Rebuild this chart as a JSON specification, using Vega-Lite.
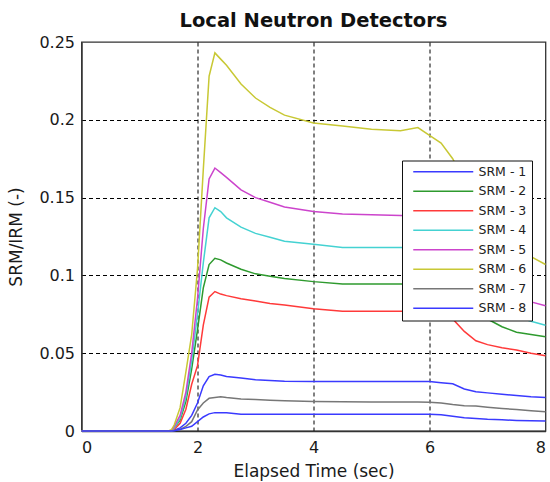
{
  "$schema": "https://vega.github.io/schema/vega-lite/v6.json",
  "width": 464,
  "height": 389,
  "autosize": {"type": "none"},
  "padding": {"left": 81.5, "top": 42, "right": 4.5, "bottom": 51},
  "background": "white",
  "title": {
    "text": "Local Neutron Detectors",
    "font": "DejaVu Sans",
    "fontSize": 19.5,
    "fontWeight": "bold",
    "color": "#111111",
    "anchor": "middle",
    "frame": "group",
    "baseline": "alphabetic",
    "offset": -12
  },
  "config": {
    "view": {"stroke": "#333333", "strokeWidth": 1.3}
  },
  "data": {
    "values": [
      {"t": 0, "SRM - 1": 0, "SRM - 2": 0, "SRM - 3": 0, "SRM - 4": 0, "SRM - 5": 0, "SRM - 6": 0, "SRM - 7": 0, "SRM - 8": 0},
      {"t": 1.5, "SRM - 1": 0, "SRM - 2": 0, "SRM - 3": 0, "SRM - 4": 0, "SRM - 5": 0, "SRM - 6": 0, "SRM - 7": 0, "SRM - 8": 0},
      {"t": 1.55, "SRM - 1": 0, "SRM - 2": 0, "SRM - 3": 0, "SRM - 4": 0, "SRM - 5": 0.0005, "SRM - 6": 0.0008, "SRM - 7": 0, "SRM - 8": 0},
      {"t": 1.6, "SRM - 1": 0.0005, "SRM - 2": 0.002, "SRM - 3": 0.001, "SRM - 4": 0.002, "SRM - 5": 0.003, "SRM - 6": 0.004, "SRM - 7": 0.0003, "SRM - 8": 0.0002},
      {"t": 1.7, "SRM - 1": 0.002, "SRM - 2": 0.007, "SRM - 3": 0.005, "SRM - 4": 0.008, "SRM - 5": 0.01, "SRM - 6": 0.015, "SRM - 7": 0.001, "SRM - 8": 0.001},
      {"t": 1.8, "SRM - 1": 0.005, "SRM - 2": 0.019, "SRM - 3": 0.014, "SRM - 4": 0.022, "SRM - 5": 0.025, "SRM - 6": 0.038, "SRM - 7": 0.003, "SRM - 8": 0.002},
      {"t": 1.9, "SRM - 1": 0.01, "SRM - 2": 0.04, "SRM - 3": 0.03, "SRM - 4": 0.045, "SRM - 5": 0.05, "SRM - 6": 0.062, "SRM - 7": 0.006, "SRM - 8": 0.003},
      {"t": 2.0, "SRM - 1": 0.018, "SRM - 2": 0.065, "SRM - 3": 0.042, "SRM - 4": 0.075, "SRM - 5": 0.085, "SRM - 6": 0.104, "SRM - 7": 0.0135, "SRM - 8": 0.006},
      {"t": 2.1, "SRM - 1": 0.029, "SRM - 2": 0.092, "SRM - 3": 0.068, "SRM - 4": 0.108, "SRM - 5": 0.13, "SRM - 6": 0.168, "SRM - 7": 0.018, "SRM - 8": 0.009},
      {"t": 2.2, "SRM - 1": 0.035, "SRM - 2": 0.107, "SRM - 3": 0.086, "SRM - 4": 0.137, "SRM - 5": 0.162, "SRM - 6": 0.228, "SRM - 7": 0.021, "SRM - 8": 0.011},
      {"t": 2.3, "SRM - 1": 0.0365, "SRM - 2": 0.111, "SRM - 3": 0.0896, "SRM - 4": 0.1435, "SRM - 5": 0.169, "SRM - 6": 0.243, "SRM - 7": 0.0215, "SRM - 8": 0.0118},
      {"t": 2.4, "SRM - 1": 0.036, "SRM - 2": 0.11, "SRM - 3": 0.088, "SRM - 4": 0.141, "SRM - 5": 0.166, "SRM - 6": 0.239, "SRM - 7": 0.022, "SRM - 8": 0.0118},
      {"t": 2.5, "SRM - 1": 0.035, "SRM - 2": 0.108, "SRM - 3": 0.087, "SRM - 4": 0.137, "SRM - 5": 0.163, "SRM - 6": 0.235, "SRM - 7": 0.0215, "SRM - 8": 0.0117},
      {"t": 2.75, "SRM - 1": 0.034, "SRM - 2": 0.104, "SRM - 3": 0.085, "SRM - 4": 0.131, "SRM - 5": 0.155, "SRM - 6": 0.223, "SRM - 7": 0.0205, "SRM - 8": 0.0107},
      {"t": 3.0, "SRM - 1": 0.033, "SRM - 2": 0.101, "SRM - 3": 0.0835, "SRM - 4": 0.127, "SRM - 5": 0.15, "SRM - 6": 0.214, "SRM - 7": 0.0202, "SRM - 8": 0.0107},
      {"t": 3.25, "SRM - 1": 0.0325, "SRM - 2": 0.0995, "SRM - 3": 0.082, "SRM - 4": 0.1245, "SRM - 5": 0.147, "SRM - 6": 0.208, "SRM - 7": 0.0198, "SRM - 8": 0.0107},
      {"t": 3.5, "SRM - 1": 0.032, "SRM - 2": 0.098, "SRM - 3": 0.081, "SRM - 4": 0.122, "SRM - 5": 0.144, "SRM - 6": 0.203, "SRM - 7": 0.0195, "SRM - 8": 0.0107},
      {"t": 4.0, "SRM - 1": 0.0318, "SRM - 2": 0.096, "SRM - 3": 0.0786, "SRM - 4": 0.12, "SRM - 5": 0.141, "SRM - 6": 0.198, "SRM - 7": 0.019, "SRM - 8": 0.0107},
      {"t": 4.5, "SRM - 1": 0.0318, "SRM - 2": 0.0945, "SRM - 3": 0.077, "SRM - 4": 0.118, "SRM - 5": 0.1395, "SRM - 6": 0.196, "SRM - 7": 0.0188, "SRM - 8": 0.0107},
      {"t": 5.0, "SRM - 1": 0.0318, "SRM - 2": 0.0945, "SRM - 3": 0.077, "SRM - 4": 0.118, "SRM - 5": 0.139, "SRM - 6": 0.194, "SRM - 7": 0.0187, "SRM - 8": 0.0107},
      {"t": 5.5, "SRM - 1": 0.0318, "SRM - 2": 0.0945, "SRM - 3": 0.077, "SRM - 4": 0.118, "SRM - 5": 0.1385, "SRM - 6": 0.193, "SRM - 7": 0.0186, "SRM - 8": 0.0107},
      {"t": 5.8, "SRM - 1": 0.0318, "SRM - 2": 0.0943, "SRM - 3": 0.0768, "SRM - 4": 0.1178, "SRM - 5": 0.1382, "SRM - 6": 0.195, "SRM - 7": 0.0186, "SRM - 8": 0.0107},
      {"t": 6.0, "SRM - 1": 0.0318, "SRM - 2": 0.094, "SRM - 3": 0.0765, "SRM - 4": 0.1175, "SRM - 5": 0.138, "SRM - 6": 0.19, "SRM - 7": 0.0185, "SRM - 8": 0.0107},
      {"t": 6.2, "SRM - 1": 0.031, "SRM - 2": 0.091, "SRM - 3": 0.076, "SRM - 4": 0.115, "SRM - 5": 0.135, "SRM - 6": 0.185, "SRM - 7": 0.018, "SRM - 8": 0.0105},
      {"t": 6.4, "SRM - 1": 0.0303, "SRM - 2": 0.084, "SRM - 3": 0.072, "SRM - 4": 0.106, "SRM - 5": 0.125, "SRM - 6": 0.175, "SRM - 7": 0.017, "SRM - 8": 0.0095},
      {"t": 6.6, "SRM - 1": 0.027, "SRM - 2": 0.077, "SRM - 3": 0.064, "SRM - 4": 0.096, "SRM - 5": 0.112, "SRM - 6": 0.16, "SRM - 7": 0.0163, "SRM - 8": 0.0085},
      {"t": 6.8, "SRM - 1": 0.0252, "SRM - 2": 0.0745, "SRM - 3": 0.058, "SRM - 4": 0.088, "SRM - 5": 0.103, "SRM - 6": 0.147, "SRM - 7": 0.016, "SRM - 8": 0.008},
      {"t": 7.0, "SRM - 1": 0.0245, "SRM - 2": 0.072, "SRM - 3": 0.0555, "SRM - 4": 0.082, "SRM - 5": 0.096, "SRM - 6": 0.136, "SRM - 7": 0.0153, "SRM - 8": 0.0075},
      {"t": 7.25, "SRM - 1": 0.0236, "SRM - 2": 0.067, "SRM - 3": 0.0535, "SRM - 4": 0.077, "SRM - 5": 0.09, "SRM - 6": 0.126, "SRM - 7": 0.0145, "SRM - 8": 0.0072},
      {"t": 7.5, "SRM - 1": 0.0228, "SRM - 2": 0.0635, "SRM - 3": 0.052, "SRM - 4": 0.0735, "SRM - 5": 0.086, "SRM - 6": 0.118, "SRM - 7": 0.0138, "SRM - 8": 0.0068},
      {"t": 7.75, "SRM - 1": 0.022, "SRM - 2": 0.062, "SRM - 3": 0.05, "SRM - 4": 0.0705, "SRM - 5": 0.083, "SRM - 6": 0.112, "SRM - 7": 0.013, "SRM - 8": 0.0066},
      {"t": 8.0, "SRM - 1": 0.0215, "SRM - 2": 0.0606, "SRM - 3": 0.0483, "SRM - 4": 0.068, "SRM - 5": 0.0805, "SRM - 6": 0.107, "SRM - 7": 0.0124, "SRM - 8": 0.0064}
    ]
  },
  "transform": [
    {"fold": ["SRM - 1", "SRM - 2", "SRM - 3", "SRM - 4", "SRM - 5", "SRM - 6", "SRM - 7", "SRM - 8"], "as": ["series", "value"]}
  ],
  "mark": {"type": "line", "strokeWidth": 1.5},
  "encoding": {
    "x": {
      "field": "t",
      "type": "quantitative",
      "scale": {"domain": [0, 8], "nice": false, "zero": false},
      "axis": {
        "values": [0, 2, 4, 6, 8],
        "title": "Elapsed Time (sec)",
        "grid": true,
        "gridColor": "#000000",
        "gridDash": [4, 3],
        "gridWidth": 1,
        "gridOpacity": {"condition": {"test": "datum.value == 0 || datum.value == 8", "value": 0}, "value": 1},
        "ticks": false,
        "domainColor": "#333333",
        "domainWidth": 1.3,
        "labelPadding": 8,
        "labelFont": "DejaVu Sans",
        "labelFontSize": 16,
        "labelColor": "#1a1a1a",
        "titleFont": "DejaVu Sans",
        "titleFontSize": 17,
        "titleFontWeight": "normal",
        "titleColor": "#1a1a1a",
        "titlePadding": 8
      }
    },
    "y": {
      "field": "value",
      "type": "quantitative",
      "scale": {"domain": [0, 0.25], "nice": false},
      "axis": {
        "values": [0, 0.05, 0.1, 0.15, 0.2, 0.25],
        "format": "~g",
        "title": "SRM/IRM (-)",
        "grid": true,
        "gridColor": "#000000",
        "gridDash": [4, 3],
        "gridWidth": 1,
        "gridOpacity": {"condition": {"test": "datum.value == 0 || datum.value == 0.25", "value": 0}, "value": 1},
        "ticks": false,
        "domainColor": "#333333",
        "domainWidth": 1.3,
        "labelPadding": 7,
        "labelFont": "DejaVu Sans",
        "labelFontSize": 16,
        "labelColor": "#1a1a1a",
        "titleFont": "DejaVu Sans",
        "titleFontSize": 17,
        "titleFontWeight": "normal",
        "titleColor": "#1a1a1a",
        "titlePadding": 13
      }
    },
    "color": {
      "field": "series",
      "type": "nominal",
      "scale": {
        "domain": ["SRM - 1", "SRM - 2", "SRM - 3", "SRM - 4", "SRM - 5", "SRM - 6", "SRM - 7", "SRM - 8"],
        "range": ["#3a3aff", "#2e9a2e", "#ff3a3a", "#44d2d2", "#cc44cc", "#c8c834", "#777777", "#3a3aff"]
      },
      "legend": {
        "orient": "none",
        "legendX": 320.5,
        "legendY": 118.5,
        "title": null,
        "symbolType": "M-6,0H6",
        "symbolSize": 100,
        "symbolStrokeWidth": 1.5,
        "symbolOffset": 30,
        "labelOffset": 29,
        "labelFont": "DejaVu Sans",
        "labelFontSize": 12.5,
        "labelColor": "#222222",
        "padding": 5,
        "rowPadding": 6.5,
        "strokeColor": "#111111",
        "fillColor": "#ffffff"
      }
    }
  }
}
